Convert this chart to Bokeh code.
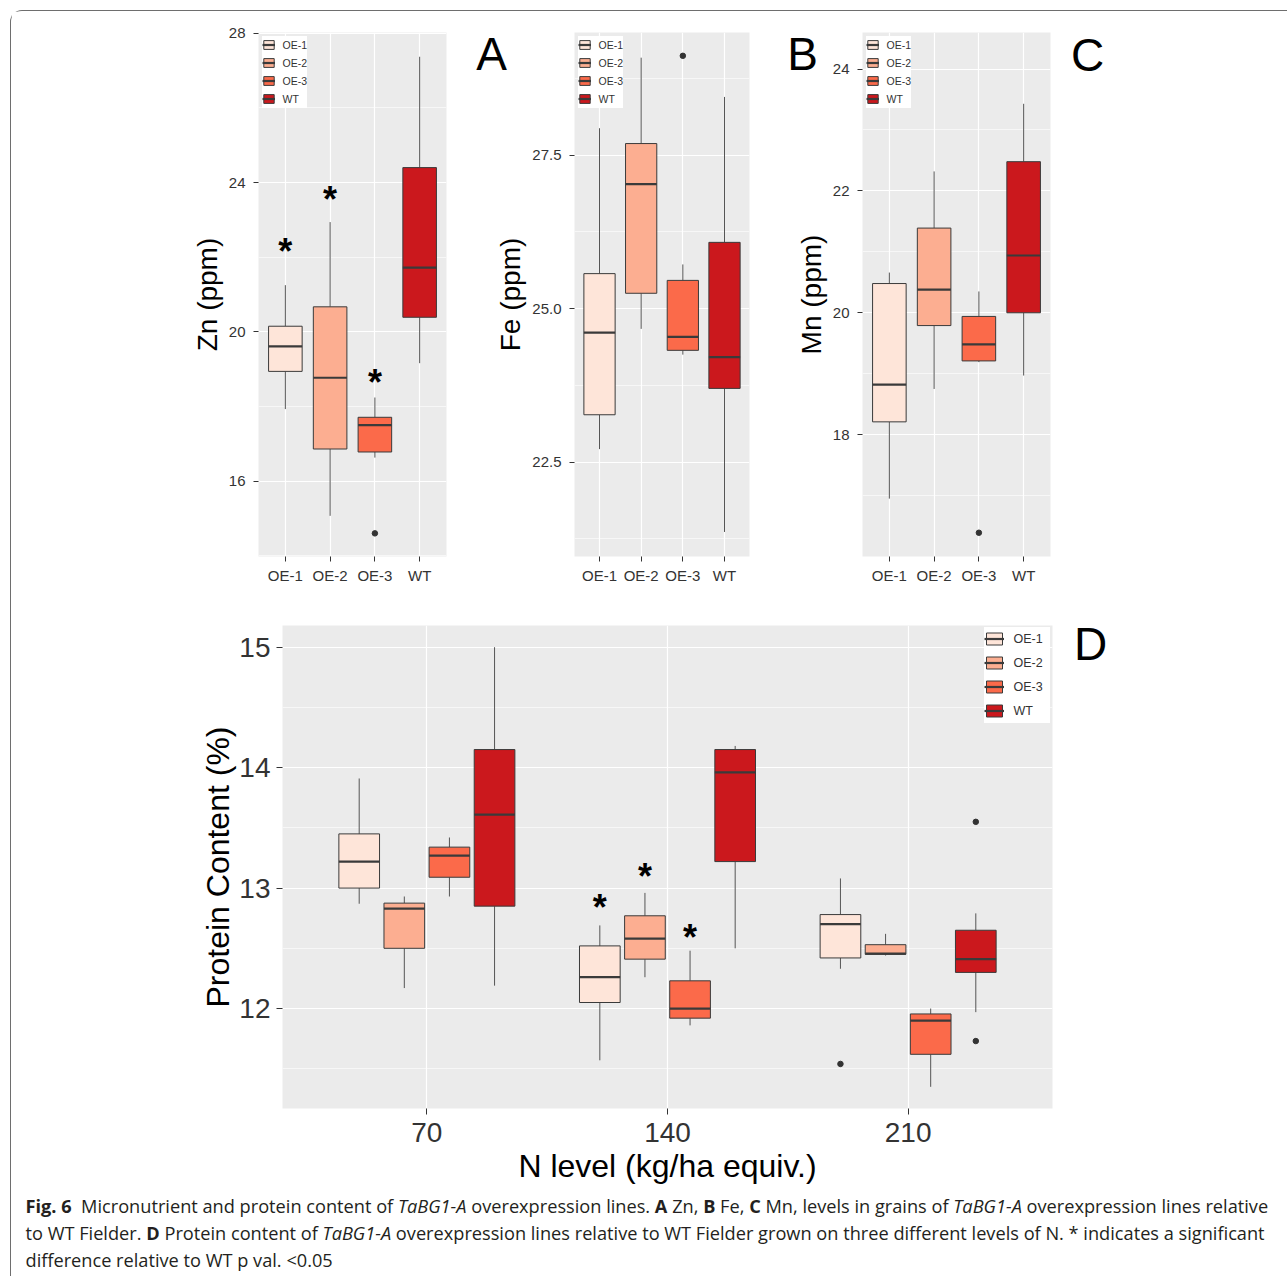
from bokeh.plotting import figure
from bokeh.models import (ColumnDataSource, FixedTicker, Legend, LegendItem, Div,
                          Range1d, NumeralTickFormatter)
from bokeh.layouts import column, row
from bokeh.embed import file_html
from bokeh.resources import INLINE
from bokeh.core.properties import value

FONT = "Liberation Sans"

genotypes = ["OE-1", "OE-2", "OE-3", "WT"]
palette = ["#FEE5D9", "#FCAE91", "#FB6A4A", "#CB181D"]

# ---- Panel A: Zn (ppm) -- per genotype: OE-1, OE-2, OE-3, WT
zn_low = [17.93, 15.07, 16.63, 19.16]
zn_q1 = [18.94, 16.86, 16.78, 20.39]
zn_med = [19.61, 18.77, 17.50, 21.72]
zn_q3 = [20.15, 20.67, 17.71, 24.40]
zn_high = [21.25, 22.94, 18.24, 27.37]
zn_out_geno = ["OE-3"]
zn_out_val = [14.60]
zn_star_geno = ["OE-1", "OE-2", "OE-3"]
zn_star_val = [22.30, 23.70, 18.80]
zn_ticks = [16, 20, 24, 28]
zn_minor = [14, 18, 22, 26]

# ---- Panel B: Fe (ppm)
fe_low = [22.71, 24.67, 24.25, 21.36]
fe_q1 = [23.27, 25.25, 24.32, 23.70]
fe_med = [24.61, 27.03, 24.54, 24.21]
fe_q3 = [25.57, 27.69, 25.46, 26.08]
fe_high = [27.94, 29.09, 25.72, 28.45]
fe_out_geno = ["OE-3"]
fe_out_val = [29.12]
fe_ticks = [22.5, 25.0, 27.5]
fe_minor = [21.25, 23.75, 26.25, 28.75]

# ---- Panel C: Mn (ppm)
mn_low = [16.95, 18.75, 19.19, 18.97]
mn_q1 = [18.21, 19.79, 19.21, 20.00]
mn_med = [18.82, 20.38, 19.48, 20.94]
mn_q3 = [20.48, 21.39, 19.94, 22.48]
mn_high = [20.66, 22.32, 20.35, 23.43]
mn_out_geno = ["OE-3"]
mn_out_val = [16.39]
mn_ticks = [18, 20, 22, 24]
mn_minor = [17, 19, 21, 23]

# ---- Panel D: Protein content (%) -- rows: genotype, columns: N level 70, 140, 210
n_levels = ["70", "140", "210"]
pc_low = [[12.87, 11.57, 12.33], [12.17, 12.26, 12.44], [12.93, 11.86, 11.35], [12.19, 12.50, 11.97]]
pc_q1 = [[13.00, 12.05, 12.42], [12.50, 12.41, 12.45], [13.09, 11.92, 11.62], [12.85, 13.22, 12.30]]
pc_med = [[13.22, 12.26, 12.70], [12.83, 12.58, 12.455], [13.27, 12.00, 11.90], [13.61, 13.96, 12.41]]
pc_q3 = [[13.45, 12.52, 12.78], [12.875, 12.77, 12.53], [13.34, 12.23, 11.955], [14.15, 14.15, 12.65]]
pc_high = [[13.91, 12.69, 13.08], [12.93, 12.96, 12.62], [13.42, 12.48, 12.00], [15.00, 14.18, 12.79]]
pc_out_level = ["210", "210", "210"]
pc_out_geno = ["OE-1", "WT", "WT"]
pc_out_val = [11.54, 13.55, 11.73]
pc_star_level = ["140", "140", "140"]
pc_star_geno = ["OE-1", "OE-2", "OE-3"]
pc_star_val = [12.87, 13.13, 12.62]
pc_ticks = [12, 13, 14, 15]
pc_minor = [11.5, 12.5, 13.5, 14.5]

panel_letters = ["A", "B", "C", "D"]

caption_lines = [
    '<b>Fig.&nbsp;6</b>&nbsp; Micronutrient and protein content of <i>TaBG1-A</i> overexpression lines. '
    '<b>A</b> Zn, <b>B</b> Fe, <b>C</b> Mn, levels in grains of <i>TaBG1-A</i> overexpression lines relative',
    'to WT Fielder. <b>D</b> Protein content of <i>TaBG1-A</i> overexpression lines relative to WT Fielder '
    'grown on three different levels of N. * indicates a significant',
    'difference relative to WT p val. &lt;0.05',
]

BOX_LINE = "#3a3a3a"
WHISK = "#555555"


def style_axes(p, tick_size, title_size, ytick_standoff, ytitle_standoff, xtick_standoff, xtitle_standoff):
    for ax in (p.xaxis[0], p.yaxis[0]):
        ax.axis_line_color = None
        ax.major_tick_line_color = "#333333"
        ax.major_tick_in = 0
        ax.minor_tick_line_color = None
        ax.major_label_text_font = FONT
        ax.major_label_text_font_size = tick_size
        ax.major_label_text_color = "#333333"
        ax.axis_label_text_font = FONT
        ax.axis_label_text_font_size = title_size
        ax.axis_label_text_font_style = "normal"
        ax.axis_label_text_color = "#000000"
    p.yaxis[0].major_label_standoff = ytick_standoff
    p.yaxis[0].axis_label_standoff = ytitle_standoff
    p.xaxis[0].major_label_standoff = xtick_standoff
    p.xaxis[0].axis_label_standoff = xtitle_standoff
    p.background_fill_color = "#EBEBEB"
    p.border_fill_color = "white"
    p.outline_line_color = None
    p.xgrid.grid_line_color = "white"
    p.xgrid.grid_line_width = 1.2
    p.ygrid.grid_line_color = "white"
    p.ygrid.grid_line_width = 1.2
    p.ygrid.minor_grid_line_color = "white"
    p.ygrid.minor_grid_line_width = 0.6


def draw_boxes(p, src, width):
    p.segment(x0="x", y0="q3", x1="x", y1="high", source=src, line_color=WHISK, line_width=1)
    p.segment(x0="x", y0="q1", x1="x", y1="low", source=src, line_color=WHISK, line_width=1)
    box = p.vbar(x="x", width=width, bottom="q1", top="q3", source=src,
                 fill_color="color", line_color=BOX_LINE, line_width=1)
    med = p.segment(x0="left", y0="med", x1="right", y1="med", source=src,
                    line_color=BOX_LINE, line_width=2.2)
    return box, med


def top_panel(ylabel, low, q1, med, q3, high, out_geno, out_val, yr, ticks, minor,
              bl, fw, br, fmt=None, star_geno=None, star_val=None):
    p = figure(frame_width=fw, frame_height=524, min_border_left=bl, min_border_right=br,
               min_border_top=21, min_border_bottom=44, x_range=Range1d(0.4, 4.6),
               y_range=Range1d(*yr), output_backend="svg", toolbar_location=None, title=None)
    xs = [i + 1 for i in range(len(genotypes))]
    w = 0.75
    src = ColumnDataSource(dict(x=xs, low=low, q1=q1, med=med, q3=q3, high=high,
                                left=[x - w / 2 for x in xs], right=[x + w / 2 for x in xs],
                                color=palette))
    box, medr = draw_boxes(p, src, w)
    p.scatter(x=[genotypes.index(g) + 1 for g in out_geno], y=out_val, size=5.5,
              color="#333333")
    if star_geno:
        p.text(x=[genotypes.index(g) + 1 for g in star_geno], y=star_val, text=["*"] * len(star_geno),
               text_font=value(FONT), text_font_size="36px", text_font_style="bold",
               text_align="center", text_baseline="middle", y_offset=6, text_color="black")
    p.xaxis.ticker = FixedTicker(ticks=xs)
    p.xaxis.major_label_overrides = {x: g for x, g in zip(xs, genotypes)}
    p.yaxis.ticker = FixedTicker(ticks=ticks, minor_ticks=minor)
    if fmt:
        p.yaxis.formatter = NumeralTickFormatter(format=fmt)
    p.yaxis.axis_label = ylabel
    style_axes(p, "15px", "28px", 8, 3, 5, 0)
    p.xaxis.major_tick_out = 5
    p.yaxis.major_tick_out = 5
    items = [LegendItem(label=g, renderers=[box, medr], index=i) for i, g in enumerate(genotypes)]
    leg = Legend(items=items, location="top_left", margin=4, padding=6, spacing=0,
                 glyph_width=13, glyph_height=11, label_height=18, label_standoff=8,
                 label_text_font=FONT, label_text_font_size="10.5px", label_text_color="#333333",
                 background_fill_color="white", background_fill_alpha=1.0, border_line_color=None)
    p.add_layout(leg)
    return p


pA = top_panel("Zn (ppm)", zn_low, zn_q1, zn_med, zn_q3, zn_high, zn_out_geno, zn_out_val,
               (13.98, 28.02), zn_ticks, zn_minor, 247, 188, 24,
               star_geno=zn_star_geno, star_val=zn_star_val)
pB = top_panel("Fe (ppm)", fe_low, fe_q1, fe_med, fe_q3, fe_high, fe_out_geno, fe_out_val,
               (20.96, 29.50), fe_ticks, fe_minor, 104, 175, 31, fmt="0.0")
pC = top_panel("Mn (ppm)", mn_low, mn_q1, mn_med, mn_q3, mn_high, mn_out_geno, mn_out_val,
               (16.0, 24.6), mn_ticks, mn_minor, 82, 188, 237)

# ---- Panel D
pD = figure(frame_width=770, frame_height=483, min_border_left=271, min_border_right=235,
            min_border_top=25, min_border_bottom=77, x_range=Range1d(0.4, 3.6),
            y_range=Range1d(11.17, 15.18), output_backend="svg", toolbar_location=None, title=None)
dodge = 0.1875
bw = 0.169
xs, lo, a, m, b, hi, col = [], [], [], [], [], [], []
for j, g in enumerate(genotypes):
    for i in range(len(n_levels)):
        xs.append(i + 1 + (j - 1.5) * dodge)
        lo.append(pc_low[j][i]); a.append(pc_q1[j][i]); m.append(pc_med[j][i])
        b.append(pc_q3[j][i]); hi.append(pc_high[j][i]); col.append(palette[j])
srcD = ColumnDataSource(dict(x=xs, low=lo, q1=a, med=m, q3=b, high=hi,
                             left=[x - bw / 2 for x in xs], right=[x + bw / 2 for x in xs], color=col))
boxD, medD = draw_boxes(pD, srcD, bw)
pD.scatter(x=[n_levels.index(l) + 1 + (genotypes.index(g) - 1.5) * dodge for l, g in zip(pc_out_level, pc_out_geno)],
           y=pc_out_val, size=5.5, color="#333333")
pD.text(x=[n_levels.index(l) + 1 + (genotypes.index(g) - 1.5) * dodge for l, g in zip(pc_star_level, pc_star_geno)],
        y=pc_star_val, text=["*"] * len(pc_star_val), text_font=value(FONT), text_font_size="36px",
        text_font_style="bold", text_align="center", text_baseline="middle", y_offset=4, text_color="black")
pD.xaxis.ticker = FixedTicker(ticks=[1, 2, 3])
pD.xaxis.major_label_overrides = {i + 1: l for i, l in enumerate(n_levels)}
pD.yaxis.ticker = FixedTicker(ticks=pc_ticks, minor_ticks=pc_minor)
pD.xaxis.axis_label = "N level (kg/ha equiv.)"
pD.yaxis.axis_label = "Protein Content (%)"
style_axes(pD, "28px", "32px", 6, 0, 8, 3)
pD.xaxis.major_tick_out = 6
pD.yaxis.major_tick_out = 6
itemsD = [LegendItem(label=g, renderers=[boxD, medD], index=j * 3) for j, g in enumerate(genotypes)]
legD = Legend(items=itemsD, location="top_right", margin=2, padding=6, spacing=0,
              glyph_width=20, glyph_height=15, label_height=24, label_width=36, label_standoff=10,
              label_text_font=FONT, label_text_font_size="12.5px", label_text_color="#333333",
              background_fill_color="white", background_fill_alpha=1.0, border_line_color=None)
pD.add_layout(legD)

line_html = "".join(
    '<div style="white-space:nowrap;line-height:27px;height:27px;">%s</div>' % l for l in caption_lines)
caption = Div(text=line_html, width=1262, height=80,
              styles={"font-family": "'Open Sans', sans-serif", "font-size": "18.2px",
                      "color": "#231F20", "padding-left": "10px", "padding-top": "2px"})

# panel letters, placed over the figure borders (left, top of their boxes inside the frame)
letter_pos = [(456, 15), (767, 15), (1052, 16), (1055, 605)]
letter_divs = [
    Div(text=t, width=40, height=50,
        styles={"position": "absolute", "left": "%dpx" % lx, "top": "%dpx" % ly,
                "font-family": "'Liberation Sans', Arial, sans-serif", "font-size": "46px",
                "line-height": "1", "text-align": "center", "color": "black", "z-index": "5"})
    for t, (lx, ly) in zip(panel_letters, letter_pos)
]

layout = column(row(pA, pB, pC), pD, caption, *letter_divs,
                styles={"position": "relative",
                        "border-top": "1.5px solid #6e6e6e", "border-left": "1.5px solid #6e6e6e",
                        "border-top-left-radius": "12px", "margin-left": "9.5px", "margin-top": "9.5px"})

open("out.html", "w").write(file_html(layout, INLINE))
